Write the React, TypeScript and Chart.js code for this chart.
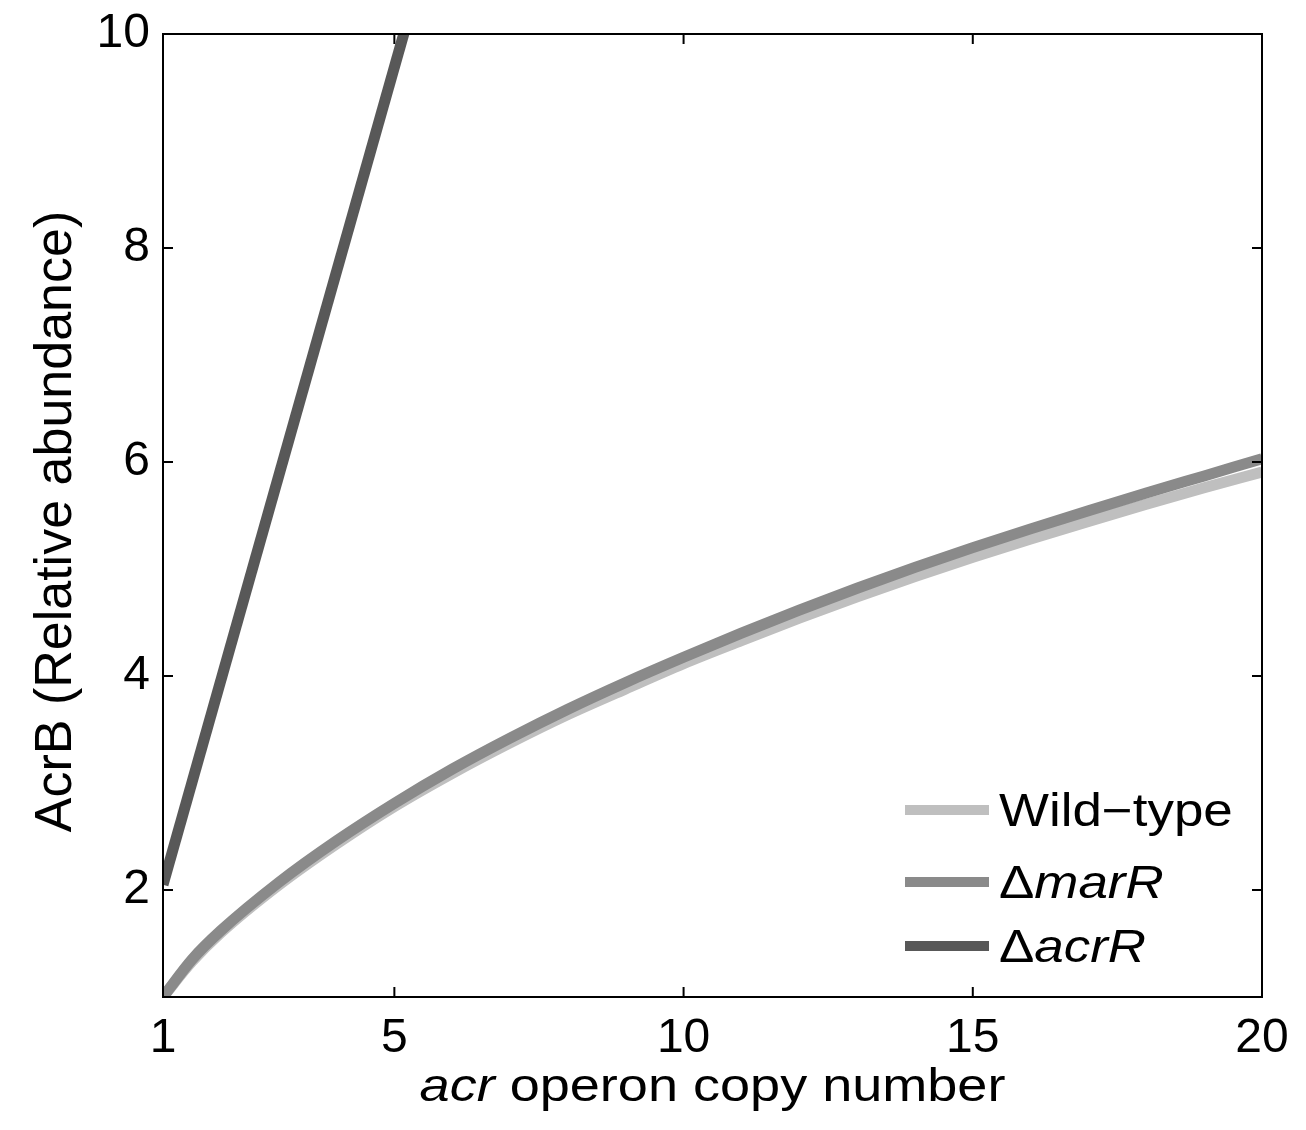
import React, { useEffect, useRef } from 'react';
import { Chart, registerables } from 'chart.js';

Chart.register(...registerables);

// ---- data ----
const copyNumbers = [1, 1.5, 2, 3, 4, 5, 6, 7, 8, 9, 10, 11, 12, 13, 14, 15, 16, 17, 18, 19, 20];
const wildType = [1.0, 1.33, 1.6, 2.045, 2.43, 2.78, 3.09, 3.375, 3.64, 3.88, 4.115, 4.33, 4.54, 4.74, 4.93, 5.11, 5.28, 5.445, 5.605, 5.76, 5.905];
const marR = [1.0, 1.35, 1.62, 2.07, 2.46, 2.81, 3.13, 3.42, 3.69, 3.94, 4.175, 4.4, 4.615, 4.82, 5.015, 5.2, 5.375, 5.545, 5.71, 5.87, 6.03];
const acrRCopy = [1, 6];
const acrR = [2.05, 11.6];

const seriesNames = ['Wild\u2212type', '\u0394marR', '\u0394acrR'];
const seriesColors = ['#bfbfbf', '#8a8a8a', '#585858'];

const xTicks = [1, 5, 10, 15, 20];
const yTicks = [2, 4, 6, 8, 10];
const xTitleItalic = 'acr';
const xTitleRest = ' operon copy number';
const yTitle = 'AcrB (Relative abundance)';

const FONT = '"Liberation Sans", Arial, Helvetica, sans-serif';
const STRETCH = 1.15;

function drawParts(ctx: CanvasRenderingContext2D, parts: { t: string; italic: boolean }[], size: number, x: number, y: number, align: 'left' | 'center') {
  let total = 0;
  const widths = parts.map((p) => {
    ctx.font = `${p.italic ? 'italic ' : ''}${size}px ${FONT}`;
    const w = ctx.measureText(p.t).width;
    total += w;
    return w;
  });
  ctx.save();
  ctx.translate(x, y);
  ctx.scale(STRETCH, 1);
  let cx = align === 'center' ? -total / 2 : 0;
  ctx.textAlign = 'left';
  ctx.textBaseline = 'alphabetic';
  parts.forEach((p, i) => {
    ctx.font = `${p.italic ? 'italic ' : ''}${size}px ${FONT}`;
    ctx.fillText(p.t, cx, 0);
    cx += widths[i];
  });
  ctx.restore();
}

function splitName(name: string) {
  if (name.startsWith('\u0394')) {
    return [
      { t: '\u0394', italic: false },
      { t: name.slice(1), italic: true },
    ];
  }
  return [{ t: name, italic: false }];
}

const framePlugin = {
  id: 'frameAndText',
  afterDatasetsDraw(chart: any) {
    const { ctx, chartArea: a, scales } = chart;
    ctx.save();
    ctx.strokeStyle = '#000';
    ctx.lineWidth = 2;
    ctx.strokeRect(a.left, a.top, a.right - a.left, a.bottom - a.top);
    const len = 10;
    ctx.beginPath();
    scales.x.ticks.forEach((t: any) => {
      const p = scales.x.getPixelForValue(t.value);
      ctx.moveTo(p, a.bottom);
      ctx.lineTo(p, a.bottom - len);
      ctx.moveTo(p, a.top);
      ctx.lineTo(p, a.top + len);
    });
    scales.y.ticks.forEach((t: any) => {
      const p = scales.y.getPixelForValue(t.value);
      ctx.moveTo(a.left, p);
      ctx.lineTo(a.left + len, p);
      ctx.moveTo(a.right, p);
      ctx.lineTo(a.right - len, p);
    });
    ctx.stroke();
    ctx.restore();
  },
  afterDraw(chart: any) {
    const { ctx, chartArea: a } = chart;
    ctx.save();
    ctx.fillStyle = '#000';
    // legend
    const rowOffsets = [187, 115, 51];
    const lx0 = a.right - 357;
    const lx1 = a.right - 273;
    const tx = a.right - 263;
    const size = 46;
    chart.data.datasets.forEach((ds: any, i: number) => {
      const y = a.bottom - rowOffsets[i];
      ctx.strokeStyle = ds.borderColor;
      ctx.lineWidth = 10;
      ctx.lineCap = 'butt';
      ctx.beginPath();
      ctx.moveTo(lx0, y);
      ctx.lineTo(lx1, y);
      ctx.stroke();
      ctx.fillStyle = '#000';
      drawParts(ctx, splitName(ds.label), size, tx, y + size * 0.358, 'left');
    });
    // x title
    drawParts(
      ctx,
      [
        { t: xTitleItalic, italic: true },
        { t: xTitleRest, italic: false },
      ],
      47,
      (a.left + a.right) / 2,
      a.bottom + 104,
      'center'
    );
    // y title
    ctx.save();
    ctx.translate(71, (a.top + a.bottom) / 2 + 6);
    ctx.rotate(-Math.PI / 2);
    ctx.font = `52px ${FONT}`;
    ctx.textAlign = 'center';
    ctx.textBaseline = 'alphabetic';
    ctx.fillText(yTitle, 0, 0);
    ctx.restore();
    ctx.restore();
  },
};

export default function App() {
  const ref = useRef<HTMLCanvasElement | null>(null);

  useEffect(() => {
    document.body.style.margin = '0';
    document.body.style.overflow = 'hidden';
    const canvas = ref.current;
    if (!canvas) return;
    const toPts = (xs: number[], ys: number[]) => xs.map((x, i) => ({ x, y: ys[i] }));
    const chart = new Chart(canvas, {
      type: 'line',
      data: {
        datasets: [
          {
            label: seriesNames[0],
            data: toPts(copyNumbers, wildType),
            borderColor: seriesColors[0],
            borderWidth: 11,
            pointRadius: 0,
            cubicInterpolationMode: 'monotone',
            clip: 0,
            order: 3,
          },
          {
            label: seriesNames[1],
            data: toPts(copyNumbers, marR),
            borderColor: seriesColors[1],
            borderWidth: 11,
            pointRadius: 0,
            cubicInterpolationMode: 'monotone',
            clip: 0,
            order: 2,
          },
          {
            label: seriesNames[2],
            data: toPts(acrRCopy, acrR),
            borderColor: seriesColors[2],
            borderWidth: 11,
            pointRadius: 0,
            clip: 0,
            order: 1,
          },
        ],
      },
      options: {
        responsive: false,
        animation: false,
        devicePixelRatio: 1,
        layout: { padding: { left: 0, top: 34, right: 44, bottom: 0 } },
        plugins: { legend: { display: false }, tooltip: { enabled: false } },
        scales: {
          x: {
            type: 'linear',
            min: 1,
            max: 20,
            afterBuildTicks: (s: any) => {
              s.ticks = xTicks.map((v) => ({ value: v }));
            },
            afterFit: (s: any) => {
              s.height = 133;
            },
            grid: { display: false, drawTicks: false, tickLength: 0 },
            border: { display: false },
            ticks: {
              padding: 13,
              color: '#000',
              font: { family: FONT, size: 48 },
              maxRotation: 0,
              autoSkip: false,
            },
          },
          y: {
            type: 'linear',
            min: 1,
            max: 10,
            afterBuildTicks: (s: any) => {
              s.ticks = yTicks.map((v) => ({ value: v }));
            },
            afterFit: (s: any) => {
              s.width = 163;
              s.paddingTop = 0;
              s.paddingBottom = 0;
            },
            grid: { display: false, drawTicks: false, tickLength: 0 },
            border: { display: false },
            ticks: {
              padding: 13,
              color: '#000',
              font: { family: FONT, size: 48, lineHeight: 1 },
              autoSkip: false,
            },
          },
        },
      },
      plugins: [framePlugin],
    } as any);
    return () => chart.destroy();
  }, []);

  return (
    <div style={{ width: 1306, height: 1130, background: '#fff' }}>
      <canvas ref={ref} width={1306} height={1130} style={{ display: 'block', width: 1306, height: 1130 }} />
    </div>
  );
}
